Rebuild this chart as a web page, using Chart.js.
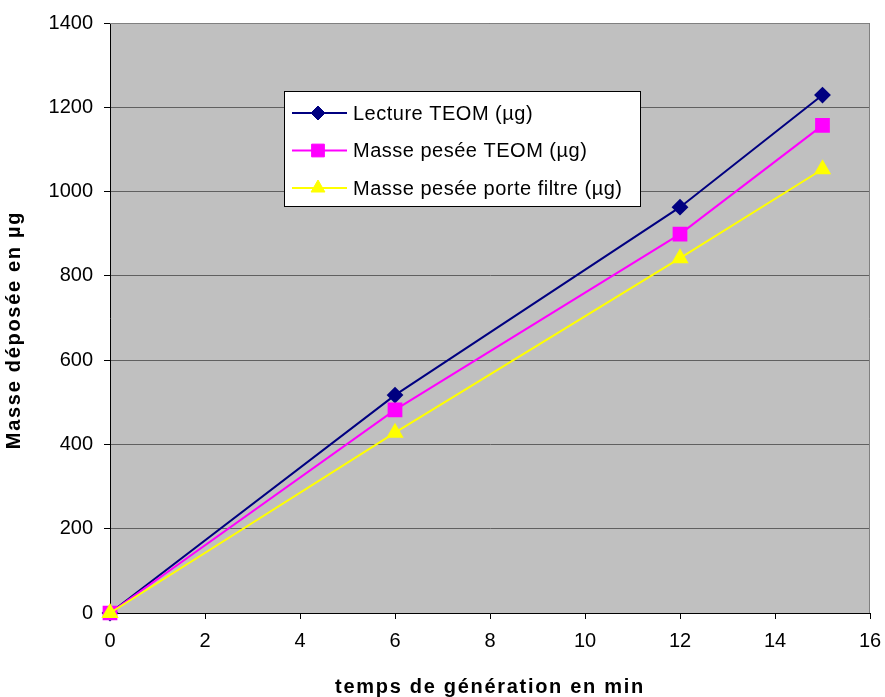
<!DOCTYPE html>
<html>
<head>
<meta charset="utf-8">
<script src="https://cdn.jsdelivr.net/npm/chart.js@4/dist/chart.umd.min.js"></script>
<style>
  html, body { margin: 0; padding: 0; background: #ffffff; }
  #wrap { width: 885px; height: 697px; }
</style>
</head>
<body>
<div id="wrap"><canvas id="c" width="885" height="697"></canvas></div>
<script>
// Durée de génération (min)
const temps = [0, 6, 12, 15];
// Masses (µg)
const lectureTEOM = [0, 517, 963, 1229];
const masseTEOM = [0, 482, 899, 1157];
const massePorteFiltre = [0, 428, 842, 1053];

const seriesNames = ['Lecture TEOM (µg)', 'Masse pesée TEOM (µg)', 'Masse pesée porte filtre (µg)'];
const xTicks = [0, 2, 4, 6, 8, 10, 12, 14, 16];
const yTicks = [0, 200, 400, 600, 800, 1000, 1200, 1400];
const xTitle = 'temps de génération en min';
const yTitle = 'Masse déposée en µg';

const FONT = 'Arial, "Liberation Sans", sans-serif';

function pts(values) {
  return temps.map((t, i) => ({ x: t, y: values[i] }));
}

// Grey plot background with frame
const plotFrame = {
  id: 'plotFrame',
  beforeDraw(chart) {
    const { ctx, chartArea: a } = chart;
    ctx.save();
    ctx.fillStyle = '#c0c0c0';
    ctx.fillRect(a.left, a.top, a.right - a.left, a.bottom - a.top);
    ctx.restore();
  },
  beforeDatasetsDraw(chart) {
    const { ctx, chartArea: a } = chart;
    ctx.save();
    ctx.lineWidth = 1;
    ctx.strokeStyle = '#808080';
    ctx.beginPath();
    ctx.moveTo(a.left, a.top + 0.5);
    ctx.lineTo(a.right - 0.5, a.top + 0.5);
    ctx.lineTo(a.right - 0.5, a.bottom);
    ctx.stroke();
    ctx.restore();
  }
};

// Axis titles, drawn with wide letter spacing
const axisTitles = {
  id: 'axisTitles',
  afterDraw(chart) {
    const { ctx, chartArea: a } = chart;
    ctx.save();
    ctx.font = 'bold 20px ' + FONT;
    ctx.fillStyle = '#000000';
    ctx.letterSpacing = '1.7px';
    ctx.textAlign = 'center';
    ctx.textBaseline = 'middle';
    ctx.fillText(xTitle, (a.left + a.right) / 2, 687);
    ctx.translate(14, 330);
    ctx.rotate(-Math.PI / 2);
    ctx.fillText(yTitle, 0, 0);
    ctx.restore();
  }
};

// Legend box inside the plot area
const boxLegend = {
  id: 'boxLegend',
  afterDraw(chart) {
    const { ctx } = chart;
    const x0 = 284, y0 = 91, w = 357, h = 116;
    ctx.save();
    ctx.fillStyle = '#ffffff';
    ctx.fillRect(x0, y0, w, h);
    ctx.strokeStyle = '#000000';
    ctx.lineWidth = 1;
    ctx.strokeRect(x0 + 0.5, y0 + 0.5, w - 1, h - 1);
    ctx.font = '20px ' + FONT;
    ctx.letterSpacing = '0.5px';
    ctx.textBaseline = 'middle';
    chart.data.datasets.forEach((ds, i) => {
      const cy = y0 + 22 + i * 37.5;
      ctx.strokeStyle = ds.borderColor;
      ctx.lineWidth = 2;
      ctx.beginPath();
      ctx.moveTo(x0 + 8, cy);
      ctx.lineTo(x0 + 63, cy);
      ctx.stroke();
      ctx.fillStyle = ds.pointBackgroundColor;
      ctx.strokeStyle = ds.pointBorderColor;
      ctx.lineWidth = 1;
      Chart.helpers.drawPoint(ctx, {
        pointStyle: ds.pointStyle,
        radius: ds.pointRadius,
        borderWidth: 1
      }, x0 + 34, cy);
      ctx.fillStyle = '#000000';
      ctx.fillText(ds.label, x0 + 69, cy + 1);
    });
    ctx.restore();
  }
};

new Chart(document.getElementById('c'), {
  type: 'line',
  data: {
    datasets: [
      {
        label: seriesNames[0],
        data: pts(lectureTEOM),
        borderColor: '#000080',
        pointBackgroundColor: '#000080',
        pointBorderColor: '#000080',
        pointStyle: 'rectRot',
        pointRadius: 7,
        borderWidth: 2,
        order: 2,
        clip: false
      },
      {
        label: seriesNames[1],
        data: pts(masseTEOM),
        borderColor: '#ff00ff',
        pointBackgroundColor: '#ff00ff',
        pointBorderColor: '#ff00ff',
        pointStyle: 'rect',
        pointRadius: 9,
        borderWidth: 2,
        order: 1,
        clip: false
      },
      {
        label: seriesNames[2],
        data: pts(massePorteFiltre),
        borderColor: '#ffff00',
        pointBackgroundColor: '#ffff00',
        pointBorderColor: '#ffff00',
        pointStyle: 'triangle',
        pointRadius: 8,
        borderWidth: 2,
        order: 0,
        clip: false
      }
    ]
  },
  options: {
    responsive: false,
    animation: false,
    layout: { padding: { top: 22, right: 15, left: 0, bottom: 0 } },
    plugins: {
      legend: { display: false },
      tooltip: { enabled: false }
    },
    elements: { line: { tension: 0 } },
    scales: {
      x: {
        type: 'linear',
        min: 0, max: 16,
        afterBuildTicks(axis) { axis.ticks = xTicks.map(v => ({ value: v })); },
        afterFit(axis) { axis.height = 84; axis.paddingRight = 0; axis.paddingLeft = 0; },
        grid: { drawOnChartArea: false, tickLength: 6, tickColor: '#000000', color: '#000000' },
        border: { color: '#000000', width: 1 },
        ticks: {
          color: '#000000', font: { family: FONT, size: 20 }, padding: 10, maxRotation: 0,
          callback: v => String(v)
        }
      },
      y: {
        type: 'linear',
        min: 0, max: 1400,
        afterBuildTicks(axis) { axis.ticks = yTicks.map(v => ({ value: v })); },
        afterFit(axis) { axis.width = 110; },
        grid: { color: '#606060', lineWidth: 1, tickLength: 6, tickColor: '#000000' },
        border: { color: '#000000', width: 1 },
        ticks: {
          color: '#000000', font: { family: FONT, size: 20 }, padding: 11,
          callback: v => String(v)
        }
      }
    }
  },
  plugins: [plotFrame, boxLegend, axisTitles]
});
</script>
</body>
</html>
